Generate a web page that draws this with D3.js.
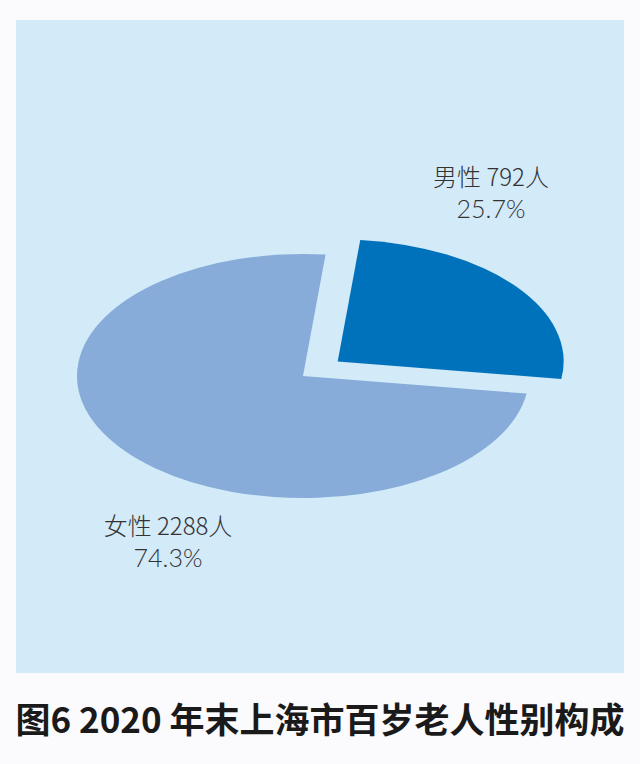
<!DOCTYPE html>
<html>
<head>
<meta charset="utf-8">
<script src="https://cdn.jsdelivr.net/npm/d3@7"></script>
<style>
  body { margin: 0; background: #fbfafd; }
</style>
</head>
<body>
<svg id="chart" width="640" height="764"></svg>
<script>
const categories = ["男性", "女性"];
const counts = [792, 2288];
const shares = ["25.7%", "74.3%"];
const colors = ["#0072bb", "#87acd9"];

const svg = d3.select("#chart");

svg.append("rect")
  .attr("x", 16).attr("y", 20)
  .attr("width", 608).attr("height", 653)
  .attr("fill", "#d3eaf8");

const cx = 303, cy = 376, rx = 226, ry = 122;

const pie = d3.pie()
  .value(d => d.value)
  .sort(null)
  .startAngle(0.1)
  .endAngle(0.1 + 2 * Math.PI);

const arc = d3.arc().innerRadius(0).outerRadius(rx);

const data = pie(categories.map((c, i) => ({ name: c, value: counts[i] })));

// squash the pie vertically so it reads as a tilted disc
const g = svg.append("g")
  .attr("transform", `translate(${cx},${cy}) scale(1,${ry / rx})`);

g.selectAll("path")
  .data(data)
  .join("path")
  .attr("d", arc)
  .attr("fill", (d, i) => colors[i])
  .attr("transform", (d, i) => {
    if (i !== 0) return null;
    const mid = (d.startAngle + d.endAngle) / 2;
    const off = 44;
    return `translate(${off * Math.sin(mid)},${-off * Math.cos(mid)})`;
  });

// labels
const labelPos = [[491, 186], [168, 535]];
const lab = svg.append("g")
  .attr("font-weight", 300)
  .attr("font-size", 24)
  .attr("fill", "#333")
  .attr("text-anchor", "middle");

data.forEach((d, i) => {
  lab.append("text")
    .attr("x", labelPos[i][0]).attr("y", labelPos[i][1])
    .attr("font-family", "'Noto Sans CJK SC', 'Noto Sans', sans-serif")
    .text(`${categories[i]} ${counts[i]}人`);
  lab.append("text")
    .attr("x", labelPos[i][0]).attr("y", labelPos[i][1] + 32)
    .attr("font-family", "Lato, 'Open Sans', sans-serif")
    .attr("font-size", 25)
    .text(shares[i]);
});

svg.append("text")
  .attr("x", 320).attr("y", 733)
  .attr("text-anchor", "middle")
  .attr("font-family", "'Noto Sans CJK SC', sans-serif")
  .attr("font-weight", 700)
  .attr("font-size", 35)
  .attr("fill", "#1a1a1a")
  .text("图6 2020 年末上海市百岁老人性别构成");
</script>
</body>
</html>
